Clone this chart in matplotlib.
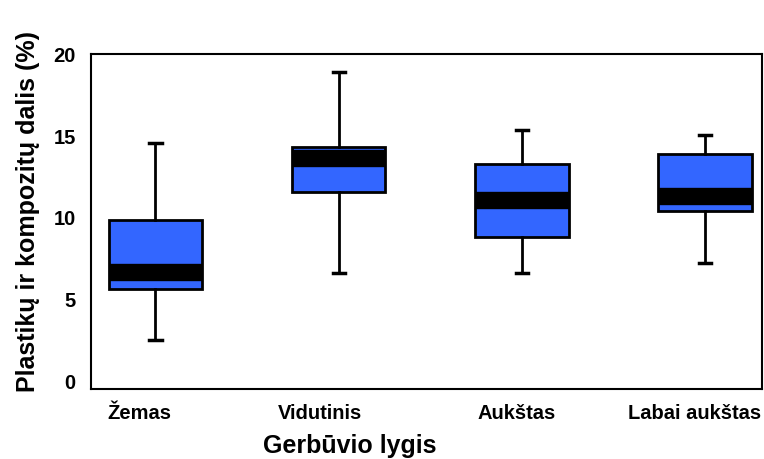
import matplotlib
matplotlib.use("Agg")
import matplotlib.pyplot as plt
from matplotlib.transforms import ScaledTranslation

plt.rcParams['font.family'] = ['Liberation Sans', 'DejaVu Sans']

categories = ["Žemas", "Vidutinis", "Aukštas", "Labai aukštas"]
whisker_low = [2.5, 6.6, 6.6, 7.25]
q1 = [5.65, 11.6, 8.85, 10.4]
median = [6.7, 13.7, 11.1, 11.35]
q3 = [9.85, 14.35, 13.3, 13.9]
whisker_high = [14.6, 18.95, 15.4, 15.1]
yticks = [0, 5, 10, 15, 20]

stats = []
for c, lo, a, m, b, hi in zip(categories, whisker_low, q1, median, q3, whisker_high):
    stats.append(dict(label=c, whislo=lo, q1=a, med=m, q3=b, whishi=hi, fliers=[]))

fig = plt.figure(figsize=(7.64, 4.59), dpi=100)
ax = fig.add_axes([91/764, 70/459, 671/764, 335/459])

positions = list(range(1, len(categories) + 1))
ax.bxp(stats, positions=positions, widths=0.51, patch_artist=True,
       showfliers=False, capwidths=0.066,
       boxprops=dict(facecolor="#3366FF", edgecolor="black", linewidth=2),
       medianprops=dict(color="black", linewidth=12.5, solid_capstyle="butt"),
       whiskerprops=dict(color="black", linewidth=2),
       capprops=dict(color="black", linewidth=2.5))

ax.set_xlim(0.648, 4.31)
ax.set_ylim(-0.49, 20.06)
ax.set_yticks(yticks)
ax.set_yticklabels([str(t) for t in yticks], fontsize=14.5, fontweight="bold")
ax.set_xticks(positions)
ax.set_xticklabels(categories, fontsize=14.5, fontweight="bold")
ax.tick_params(axis="both", length=0)
ax.tick_params(axis="y", pad=11)
ax.tick_params(axis="x", pad=11)
for s in ax.spines.values():
    s.set_linewidth(1.5)

# small horizontal label offsets seen in the reference (pixels)
label_shift_px = [-16, -19, -5, -11]
for lbl, dx in zip(ax.get_xticklabels(), label_shift_px):
    lbl.set_transform(lbl.get_transform() + ScaledTranslation(dx / 100, 0, fig.dpi_scale_trans))

ax.set_xlabel("Gerbūvio lygis", fontsize=18, fontweight="bold")
ax.xaxis.set_label_coords(0.386, -0.135)
ax.set_ylabel("Plastikų ir kompozitų dalis (%)", fontsize=18, fontweight="bold")
ax.yaxis.set_label_coords(-0.076, 0.53)

fig.savefig("out.png", dpi=100)
